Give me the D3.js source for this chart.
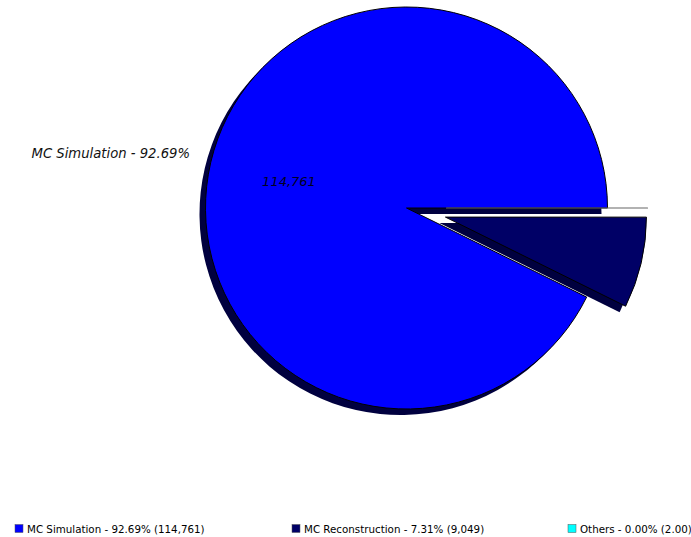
<!DOCTYPE html>
<html>
<head>
<meta charset="utf-8">
<script src="https://cdn.jsdelivr.net/npm/d3@7"></script>
<style>
  html, body { margin: 0; padding: 0; background: #fff; }
  svg { display: block; }
</style>
</head>
<body>
<svg id="chart" width="691" height="537"></svg>
<script>
// Job volume by category
const categories = ["MC Simulation", "MC Reconstruction", "Others"];
const values = [114761, 9049, 2];
const colors = ["#0000ff", "#000066", "#00ffff"];
const exploded = [false, true, true];

const W = 691, H = 537;
const svg = d3.select("#chart");

const cx = 406.5, cy = 208, R = 201;
const explodeDist = 40;
const shadowDx = -6, shadowDy = 6;
const shadowColor = "#00003f";

const total = d3.sum(values);
const fmtInt = d3.format(",.0f");
const fmtPct = v => (v / total * 100).toFixed(2) + "%";
const fmtLegendVal = v => v >= 1000 ? fmtInt(v) : v.toFixed(2);

// Slices run anticlockwise starting at three o'clock
const pie = d3.pie().sort(null).value(d => d)
  .startAngle(Math.PI / 2).endAngle(Math.PI / 2 - 2 * Math.PI);
const arcs = pie(values);
const arc = d3.arc().innerRadius(0).outerRadius(R);

function offsetOf(a, i) {
  if (!exploded[i]) return [0, 0];
  const mid = (a.startAngle + a.endAngle) / 2;
  return [Math.sin(mid) * explodeDist, -Math.cos(mid) * explodeDist];
}

const g = svg.append("g").attr("transform", `translate(${cx},${cy})`);

// shadows first
g.selectAll("path.shadow").data(arcs).join("path")
  .attr("class", "shadow")
  .attr("d", arc)
  .attr("fill", shadowColor)
  .attr("transform", (a, i) => {
    const [dx, dy] = offsetOf(a, i);
    return `translate(${dx + shadowDx},${dy + shadowDy})`;
  });

// slices
g.selectAll("path.slice").data(arcs).join("path")
  .attr("class", "slice")
  .attr("d", arc)
  .attr("fill", (a, i) => colors[i])
  .attr("stroke", (a, i) => i === 2 ? "#666" : "#000")
  .attr("stroke-width", (a, i) => i === 2 ? 1.2 : 1)
  .attr("stroke-linejoin", "round")
  .attr("transform", (a, i) => {
    const [dx, dy] = offsetOf(a, i);
    return `translate(${dx},${dy})`;
  });

// section label outside the pie and value label inside
svg.append("text")
  .attr("x", 190).attr("y", 158)
  .attr("text-anchor", "end")
  .attr("font-family", "DejaVu Sans, sans-serif")
  .attr("font-style", "italic")
  .attr("font-size", 13.2)
  .attr("fill", "#111")
  .text(`${categories[0]} - ${fmtPct(values[0])}`);

svg.append("text")
  .attr("x", 289).attr("y", 186)
  .attr("text-anchor", "middle")
  .attr("font-family", "DejaVu Sans, sans-serif")
  .attr("font-style", "italic")
  .attr("font-size", 13)
  .attr("fill", "#000022")
  .text(fmtInt(values[0]));

// legend
const legendX = [15, 292, 568];
const legend = svg.append("g");
categories.forEach((c, i) => {
  const item = legend.append("g").attr("transform", `translate(${legendX[i]},0)`);
  item.append("rect")
    .attr("x", 0).attr("y", 524.5).attr("width", 8).attr("height", 8)
    .attr("fill", colors[i])
    .attr("stroke", "#555").attr("stroke-width", 0.5);
  item.append("text")
    .attr("x", 12).attr("y", 533)
    .attr("font-family", "DejaVu Sans, sans-serif")
    .attr("font-size", 10.3)
    .attr("fill", "#000")
    .text(`${c} - ${fmtPct(values[i])} (${fmtLegendVal(values[i])})`);
});
</script>
</body>
</html>
